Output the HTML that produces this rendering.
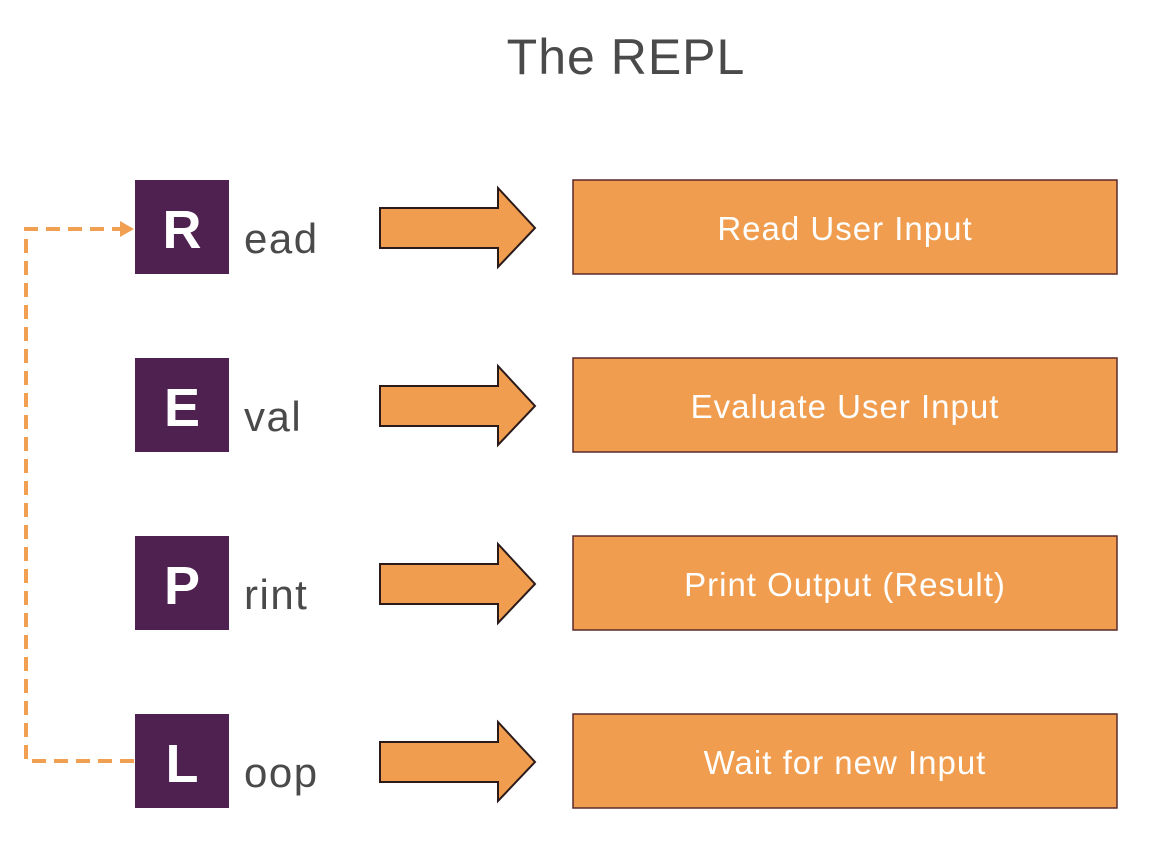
<!DOCTYPE html>
<html><head><style>
body{margin:0;background:#fff;width:1152px;height:844px;overflow:hidden;font-family:"Liberation Sans",sans-serif}
</style></head><body>
<svg width="1152" height="844" xmlns="http://www.w3.org/2000/svg" font-family="Liberation Sans, sans-serif">
<text x="626" y="74" font-size="50" fill="#4a4a4a" text-anchor="middle" letter-spacing="1">The REPL</text>
<g stroke="#f0a050" stroke-width="4" stroke-dasharray="14,8" fill="none">
<path d="M134 761 H26 V229 H122"/>
</g>
<polygon points="120,221 134,229 120,237" fill="#f0a050"/>
<g transform="translate(0,0)">
<rect x="135" y="180" width="94" height="94" fill="#4f2150"/>
<text x="182" y="248" font-size="54" font-weight="bold" fill="#fff" text-anchor="middle">R</text>
<text x="244" y="253" font-size="42" fill="#4a4a4a" letter-spacing="1.5">ead</text>
<polygon points="380,208 498,208 498,188 535,228 498,267 498,248 380,248" fill="#f09d4f" stroke="#2a1a1a" stroke-width="2"/>
<rect x="573" y="180" width="544" height="94" fill="#f09d4f" stroke="#5a2a2a" stroke-width="1.5"/>
<text x="845" y="240" font-size="33" fill="#fff" text-anchor="middle" letter-spacing="1">Read User Input</text>
</g>
<g transform="translate(0,178)">
<rect x="135" y="180" width="94" height="94" fill="#4f2150"/>
<text x="182" y="248" font-size="54" font-weight="bold" fill="#fff" text-anchor="middle">E</text>
<text x="244" y="253" font-size="42" fill="#4a4a4a" letter-spacing="1.5">val</text>
<polygon points="380,208 498,208 498,188 535,228 498,267 498,248 380,248" fill="#f09d4f" stroke="#2a1a1a" stroke-width="2"/>
<rect x="573" y="180" width="544" height="94" fill="#f09d4f" stroke="#5a2a2a" stroke-width="1.5"/>
<text x="845" y="240" font-size="33" fill="#fff" text-anchor="middle" letter-spacing="1">Evaluate User Input</text>
</g>
<g transform="translate(0,356)">
<rect x="135" y="180" width="94" height="94" fill="#4f2150"/>
<text x="182" y="248" font-size="54" font-weight="bold" fill="#fff" text-anchor="middle">P</text>
<text x="244" y="253" font-size="42" fill="#4a4a4a" letter-spacing="1.5">rint</text>
<polygon points="380,208 498,208 498,188 535,228 498,267 498,248 380,248" fill="#f09d4f" stroke="#2a1a1a" stroke-width="2"/>
<rect x="573" y="180" width="544" height="94" fill="#f09d4f" stroke="#5a2a2a" stroke-width="1.5"/>
<text x="845" y="240" font-size="33" fill="#fff" text-anchor="middle" letter-spacing="1">Print Output (Result)</text>
</g>
<g transform="translate(0,534)">
<rect x="135" y="180" width="94" height="94" fill="#4f2150"/>
<text x="182" y="248" font-size="54" font-weight="bold" fill="#fff" text-anchor="middle">L</text>
<text x="244" y="253" font-size="42" fill="#4a4a4a" letter-spacing="1.5">oop</text>
<polygon points="380,208 498,208 498,188 535,228 498,267 498,248 380,248" fill="#f09d4f" stroke="#2a1a1a" stroke-width="2"/>
<rect x="573" y="180" width="544" height="94" fill="#f09d4f" stroke="#5a2a2a" stroke-width="1.5"/>
<text x="845" y="240" font-size="33" fill="#fff" text-anchor="middle" letter-spacing="1">Wait for new Input</text>
</g>
</svg>
</body></html>
